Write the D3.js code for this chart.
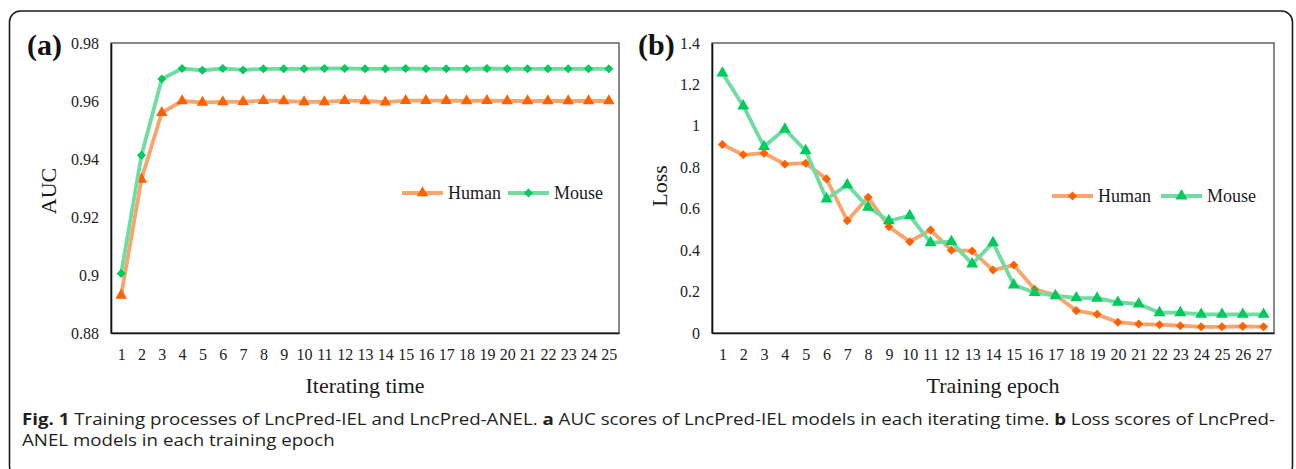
<!DOCTYPE html>
<html>
<head>
<meta charset="utf-8">
<script src="https://cdn.jsdelivr.net/npm/d3@7"></script>
<style>
  body { margin: 0; background: #fff; }
  svg { display: block; }
</style>
</head>
<body>
<script>
// panel (a): AUC per iterating time
var iterTimes = [1,2,3,4,5,6,7,8,9,10,11,12,13,14,15,16,17,18,19,20,21,22,23,24,25];
var aucHuman = [0.893,0.933,0.956,0.960,0.9595,0.9597,0.9598,0.9601,0.9600,0.9597,0.9597,0.9601,0.9600,0.9596,0.9601,0.9601,0.9601,0.9600,0.9601,0.9600,0.9600,0.9600,0.9600,0.9600,0.9600];
var aucMouse = [0.9005,0.9413,0.9676,0.9712,0.9706,0.9712,0.9707,0.9711,0.9711,0.9711,0.9712,0.9712,0.9711,0.9711,0.9712,0.9711,0.9711,0.9711,0.9712,0.9711,0.9711,0.9711,0.9711,0.9711,0.9711];
var aucTicks = [0.88, 0.9, 0.92, 0.94, 0.96, 0.98];

// panel (b): loss per training epoch
var epochs = [1,2,3,4,5,6,7,8,9,10,11,12,13,14,15,16,17,18,19,20,21,22,23,24,25,26,27];
var lossHuman = [0.91,0.86,0.868,0.815,0.82,0.744,0.542,0.655,0.513,0.441,0.497,0.40,0.396,0.304,0.328,0.211,0.183,0.108,0.09,0.052,0.043,0.040,0.035,0.030,0.030,0.032,0.030];
var lossMouse = [1.255,1.096,0.90,0.984,0.88,0.647,0.715,0.607,0.542,0.566,0.436,0.441,0.333,0.436,0.232,0.195,0.18,0.170,0.168,0.148,0.14,0.098,0.098,0.09,0.09,0.09,0.09];
var lossTicks = [0, 0.2, 0.4, 0.6, 0.8, 1, 1.2, 1.4];

var width = 1296, height = 469;
var serif = "'Liberation Serif', 'Times New Roman', serif";

var orangeLine = "#f9a46c", orangeMark = "#ff6100";
var greenLine = "#6fdca0", greenMark = "#00c95d";

var svg = d3.select("body").append("svg")
    .attr("width", width)
    .attr("height", height);

// outer figure frame
svg.append("rect")
    .attr("x", 9.5).attr("y", 11)
    .attr("width", 1283).attr("height", 466)
    .attr("rx", 11)
    .attr("fill", "none")
    .attr("stroke", "#1b1b1b")
    .attr("stroke-width", 1.6);

function drawPanel(p) {
  var x = d3.scalePoint().domain(p.cats).range([p.left, p.right]).padding(0.5);
  var y = d3.scaleLinear().domain(p.domain).range([p.bottom, p.top]);
  var g = svg.append("g");

  // plot area border
  g.append("rect")
      .attr("x", p.left).attr("y", p.top)
      .attr("width", p.right - p.left).attr("height", p.bottom - p.top)
      .attr("fill", "none")
      .attr("stroke", "#4a4a4a")
      .attr("stroke-width", 1.3);

  var yAxis = g.append("g")
      .attr("transform", "translate(" + p.left + ",0)")
      .call(d3.axisLeft(y).tickValues(p.ticks).tickSize(0).tickSizeOuter(0).tickPadding(12)
        .tickFormat(function(d) { return String(d); }));
  var xAxis = g.append("g")
      .attr("transform", "translate(0," + p.bottom + ")")
      .call(d3.axisBottom(x).tickSize(0).tickSizeOuter(0).tickPadding(16));

  [yAxis, xAxis].forEach(function(a) {
    a.select(".domain").attr("stroke", "#111").attr("stroke-width", 1.6);
    a.selectAll("text")
        .attr("font-family", serif)
        .attr("font-size", 16)
        .attr("fill", "#222");
  });

  // series
  p.series.forEach(function(s) {
    var pts = p.cats.map(function(c, i) { return [x(c), y(s.values[i])]; });
    g.append("path")
        .attr("d", d3.line()(pts))
        .attr("fill", "none")
        .attr("stroke", s.line)
        .attr("stroke-width", 3.8)
        .attr("stroke-linejoin", "round");
    g.selectAll(null)
        .data(pts)
        .enter().append("path")
        .attr("transform", function(d) { return "translate(" + d[0] + "," + d[1] + ")"; })
        .attr("d", d3.symbol().type(s.symbol).size(s.symbolSize))
        .attr("fill", s.mark);
  });

  // legend
  p.series.forEach(function(s, i) {
    var lx = p.legendX[i], ly = p.legendY;
    g.append("line")
        .attr("x1", lx).attr("x2", lx + 41)
        .attr("y1", ly).attr("y2", ly)
        .attr("stroke", s.line).attr("stroke-width", 3.8);
    g.append("path")
        .attr("transform", "translate(" + (lx + 20.5) + "," + ly + ")")
        .attr("d", d3.symbol().type(s.symbol).size(s.symbolSize))
        .attr("fill", s.mark);
    g.append("text")
        .attr("x", lx + 46).attr("y", ly + 6)
        .attr("font-family", serif)
        .attr("font-size", 18)
        .attr("fill", "#1a1a1a")
        .text(s.name);
  });

  // panel letter
  g.append("text")
      .attr("x", p.letterX).attr("y", 55)
      .attr("font-family", serif)
      .attr("font-weight", "bold")
      .attr("font-size", 30)
      .attr("fill", "#111")
      .text(p.letter);

  // axis titles
  g.append("text")
      .attr("transform", "translate(" + p.yTitleX + "," + p.yTitleY + ") rotate(-90)")
      .attr("text-anchor", "middle")
      .attr("font-family", serif)
      .attr("font-size", 22)
      .attr("fill", "#1a1a1a")
      .text(p.yTitle);
  g.append("text")
      .attr("x", (p.left + p.right) / 2).attr("y", 393)
      .attr("text-anchor", "middle")
      .attr("font-family", serif)
      .attr("font-size", 22)
      .attr("fill", "#1a1a1a")
      .text(p.xTitle);
}

drawPanel({
  cats: iterTimes, domain: [0.88, 0.98], ticks: aucTicks,
  left: 111, right: 619, top: 43, bottom: 333,
  letter: "(a)", letterX: 27, yTitle: "AUC", yTitleX: 56, yTitleY: 191, xTitle: "Iterating time",
  legendX: [402, 508], legendY: 193,
  series: [
    { name: "Human", values: aucHuman, line: orangeLine, mark: orangeMark, symbol: d3.symbolTriangle, symbolSize: 58 },
    { name: "Mouse", values: aucMouse, line: greenLine, mark: greenMark, symbol: d3.symbolDiamond2, symbolSize: 52 }
  ]
});

drawPanel({
  cats: epochs, domain: [0, 1.4], ticks: lossTicks,
  left: 712, right: 1274, top: 43, bottom: 333,
  letter: "(b)", letterX: 638, yTitle: "Loss", yTitleX: 667, yTitleY: 186, xTitle: "Training epoch",
  legendX: [1052, 1161], legendY: 196,
  series: [
    { name: "Human", values: lossHuman, line: orangeLine, mark: orangeMark, symbol: d3.symbolDiamond2, symbolSize: 52 },
    { name: "Mouse", values: lossMouse, line: greenLine, mark: greenMark, symbol: d3.symbolTriangle, symbolSize: 62 }
  ]
});

// caption, fitted to the width of the original first line
var sans = "'Open Sans', 'Noto Sans', sans-serif";
var capG = svg.append("g");
var cap = capG.append("text")
    .attr("font-family", sans)
    .attr("font-size", 16.5)
    .attr("fill", "#231f20");
var line1 = cap.append("tspan").attr("x", 0).attr("y", 425);
line1.append("tspan").attr("font-weight", "bold").text("Fig. 1");
line1.append("tspan").text(" Training processes of LncPred-IEL and LncPred-ANEL. ");
line1.append("tspan").attr("font-weight", "bold").text("a");
line1.append("tspan").text(" AUC scores of LncPred-IEL models in each iterating time. ");
line1.append("tspan").attr("font-weight", "bold").text("b");
line1.append("tspan").text(" Loss scores of LncPred-");
cap.append("tspan").attr("x", 0).attr("y", 446).text("ANEL models in each training epoch");

var line1Width = line1.node().getBBox().width;
var sx = line1Width > 0 ? 1254 / line1Width : 1;
capG.attr("transform", "translate(22,0) scale(" + sx + ",1)");
</script>
</body>
</html>
